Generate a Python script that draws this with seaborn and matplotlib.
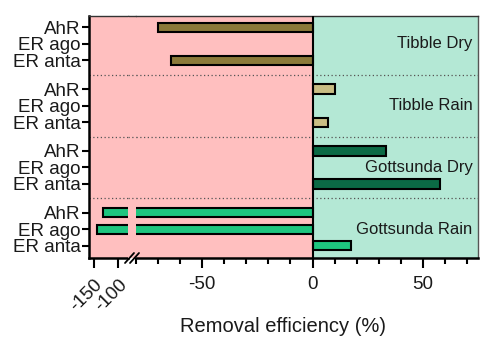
import numpy as np
import pandas as pd
import matplotlib
matplotlib.use("Agg")
import matplotlib.pyplot as plt
import matplotlib.patches as mpatches
from matplotlib.lines import Line2D
from matplotlib.ticker import MultipleLocator
import seaborn as sns

groups = ["Tibble Dry", "Tibble Rain", "Gottsunda Dry", "Gottsunda Rain"]
receptors = ["AhR", "ER ago", "ER anta"]
tibble_dry = [-70, np.nan, -64]
tibble_rain = [10.4, np.nan, 7.0]
gottsunda_dry = [33.2, np.nan, 57.9]
gottsunda_rain = [-131, -144, 17.4]
colors = ["#8B7A3A", "#C9BD84", "#0B6A45", "#1EC57F"]

group_step = 3.75
rows = []
for gi, (g, vals) in enumerate(zip(groups, [tibble_dry, tibble_rain, gottsunda_dry, gottsunda_rain])):
    for ri, (r, v) in enumerate(zip(receptors, vals)):
        rows.append({"group": g, "receptor": r, "pos": gi * group_step + ri, "value": v})
df = pd.DataFrame(rows)

sns.set_style("ticks")
plt.rcParams["font.family"] = ["Liberation Sans", "DejaVu Sans"]
txt = "#1a1a1a"

W, H = 480, 339
fig = plt.figure(figsize=(4.8, 3.39), dpi=100)

def fx(px):
    return px / W

def fy(py):
    return 1 - py / H

top_px, bot_px = 16, 258
lx0, lx1 = 89, 128
rx0, rx1 = 136, 478
axL = fig.add_axes([fx(lx0), fy(bot_px), fx(lx1 - lx0), (bot_px - top_px) / H])
axR = fig.add_axes([fx(rx0), fy(bot_px), fx(rx1 - rx0), (bot_px - top_px) / H], sharey=axL)

pink = "#FFBFBF"
green = "#B4E8D5"

# gap background
fig.patches.append(mpatches.Rectangle((fx(lx1), fy(bot_px)), fx(rx0 - lx1), (bot_px - top_px) / H,
                                      transform=fig.transFigure, facecolor=pink, edgecolor="none", zorder=0))

axL.set_facecolor(pink)
axR.axvspan(-80, 0, color=pink, zorder=0, lw=0)
axR.axvspan(0, 75, color=green, zorder=0, lw=0)

pal = dict(zip(groups, colors))
for ax in (axL, axR):
    sns.barplot(data=df.dropna(), x="value", y="pos", hue="group", palette=pal, orient="h",
                native_scale=True, dodge=False, width=0.55, errorbar=None, saturation=1,
                edgecolor="black", linewidth=1.5, ax=ax, legend=False, zorder=3)
    for gi in range(1, 4):
        ax.axhline(gi * group_step - 0.875, color="#555555", ls=(0, (1, 2)), lw=0.9, zorder=2)

ymin = -0.67
ymax = 3 * group_step + 2 + 0.73
axL.set_ylim(ymax, ymin)
axL.set_xlim(-160, -80)
axR.set_xlim(-80, 75)

axR.axvline(0, color="black", lw=1.5, zorder=4)

# dotted separators across the gap
for gi in range(1, 4):
    yd = gi * group_step - 0.875
    ypx = top_px + (yd - ymin) / (ymax - ymin) * (bot_px - top_px)
    fig.add_artist(Line2D([fx(lx1), fx(rx0)], [fy(ypx), fy(ypx)], color="#555555", ls=(0, (1, 2)), lw=0.9))

ypos = df["pos"].tolist()
axL.set_yticks(ypos)
axL.set_yticklabels(df["receptor"].tolist(), fontsize=13.5)
axL.tick_params(axis="y", length=5, width=1.5, pad=1, colors="black", labelcolor=txt)
axR.tick_params(axis="y", left=False, labelleft=False)

axL.set_xticks([-150, -100])
axL.set_xticklabels(["-150", "-100"], rotation=45, ha="right", va="top", rotation_mode="anchor", fontsize=13.5)
axL.tick_params(axis="x", length=7, width=1.5, pad=6, colors="black", labelcolor=txt)

axR.set_xticks([-50, 0, 50])
axR.set_xticklabels(["-50", "0", "50"], fontsize=13.5)
axR.xaxis.set_minor_locator(MultipleLocator(10))
axR.tick_params(axis="x", which="major", length=7, width=1.5, pad=6, colors="black", labelcolor=txt)
axR.tick_params(axis="x", which="minor", length=4, width=1.5, colors="black")

for ax in (axL, axR):
    ax.set_xlabel("")
    ax.set_ylabel("")
    for s in ("top", "bottom", "left", "right"):
        ax.spines[s].set_visible(True)
    ax.spines["top"].set_linewidth(1.0)
    ax.spines["top"].set_color("#333333")
    ax.spines["bottom"].set_linewidth(1.8)
    ax.spines["bottom"].set_color("black")
axL.spines["right"].set_visible(False)
axR.spines["left"].set_visible(False)
axL.spines["left"].set_linewidth(1.8)
axL.spines["left"].set_color("black")
axR.spines["right"].set_linewidth(1.0)
axR.spines["right"].set_color("#555555")

# top frame across gap
fig.add_artist(Line2D([fx(lx1), fx(rx0)], [fy(top_px), fy(top_px)], color="#333333", lw=1.0))
# break marks
for dx in (0, 5):
    fig.add_artist(Line2D([fx(125 + dx), fx(134 + dx)], [fy(263), fy(253)], color="black", lw=1.3))

# group labels
for gi, g in enumerate(groups):
    axR.text(72.5, gi * group_step + 1, g, ha="right", va="center", fontsize=12, color=txt, zorder=5)

fig.text(fx(283.5), fy(327), "Removal efficiency (%)", ha="center", va="center", fontsize=14.5, color=txt)

fig.savefig("out.png", dpi=100)
